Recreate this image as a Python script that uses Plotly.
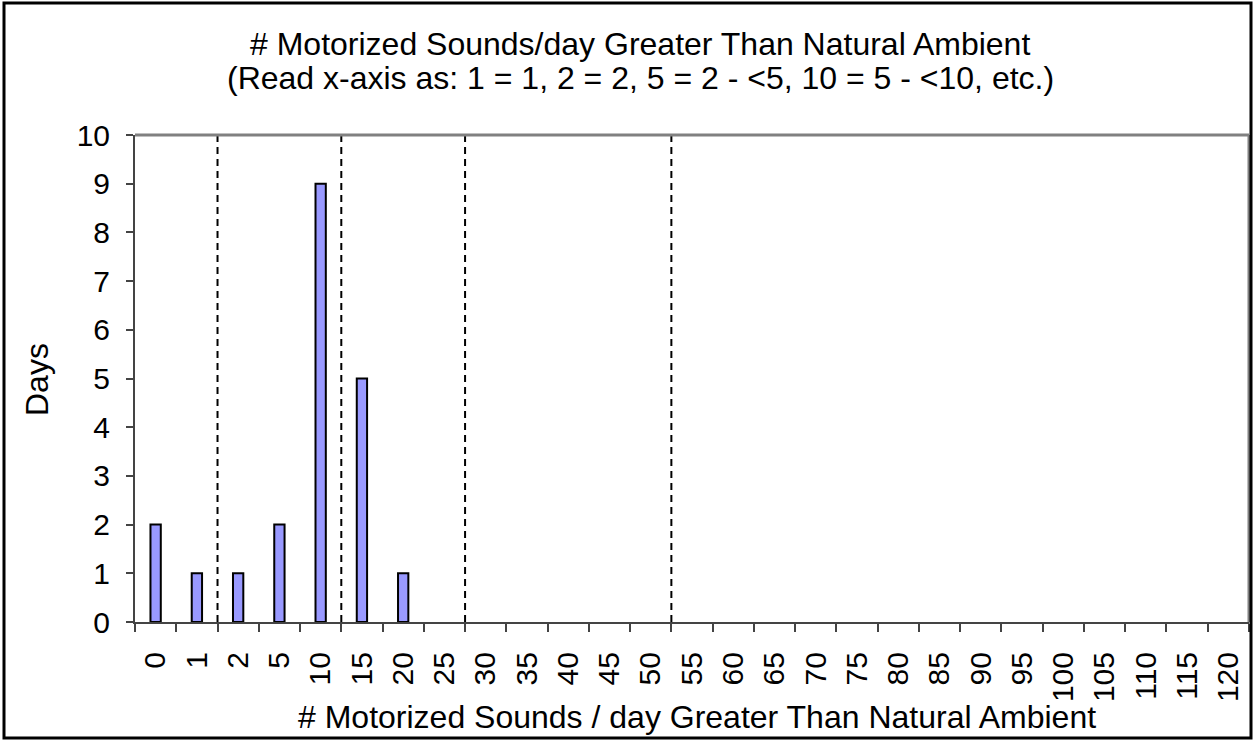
import plotly.graph_objects as go

categories = ["0", "1", "2", "5", "10", "15", "20", "25", "30", "35", "40", "45", "50",
              "55", "60", "65", "70", "75", "80", "85", "90", "95", "100", "105", "110", "115", "120"]
days = [2, 1, 1, 2, 9, 5, 1, 0, 0, 0, 0, 0, 0, 0, 0, 0, 0, 0, 0, 0, 0, 0, 0, 0, 0, 0, 0]
# dashed separators placed after these categories
separator_after = ["1", "10", "25", "50"]

title_line1 = "# Motorized Sounds/day Greater Than Natural Ambient"
title_line2 = "(Read x-axis as: 1 = 1, 2 = 2, 5 = 2 - <5, 10 = 5 - <10, etc.)"
x_title = "# Motorized Sounds / day Greater Than Natural Ambient"
y_title = "Days"

FONT = "Liberation Sans, Arial, sans-serif"
FS_TICK = 30
FS_TITLE = 32

idx = list(range(len(categories)))
bar_vals = [v if v else None for v in days]

fig = go.Figure()
fig.add_trace(go.Bar(
    x=idx, y=bar_vals, width=0.25,
    marker=dict(color="#9999FF", line=dict(color="black", width=2)),
))

L, R, T, B = 135, 1249, 135, 622
W, H = R - L, B - T

shapes = []
for c in separator_after:
    xv = categories.index(c) + 0.5
    shapes.append(dict(type="line", xref="x", yref="y", x0=xv, x1=xv, y0=0, y1=10,
                       line=dict(color="black", width=2, dash="7px,5px")))
# top and right plot-area border (gray)
shapes.append(dict(type="line", xref="paper", yref="paper", x0=0, x1=1, y0=1, y1=1,
                   line=dict(color="#808080", width=3)))
shapes.append(dict(type="line", xref="paper", yref="paper", x0=1, x1=1, y0=0, y1=1,
                   line=dict(color="#808080", width=3)))
# chart outer frame
shapes.append(dict(type="rect", xref="paper", yref="paper",
                   x0=(4 - L) / W, x1=(1251 - L) / W, y0=-(738 - B) / H, y1=(B - 3) / H,
                   line=dict(color="black", width=3)))


def px_x(x):
    return (x - L) / W


def px_y(y):
    return (B - y) / H


fig.update_layout(
    width=1256, height=740,
    margin=dict(l=L, r=1256 - R, t=T, b=740 - B, pad=0),
    paper_bgcolor="white", plot_bgcolor="white",
    showlegend=False,
    font=dict(family=FONT, size=FS_TICK, color="black"),
    shapes=shapes,
    annotations=[
        dict(text=title_line1, xref="paper", yref="paper", x=px_x(640), y=px_y(44),
             xanchor="center", yanchor="middle", showarrow=False,
             font=dict(family=FONT, size=FS_TITLE, color="black")),
        dict(text=title_line2, xref="paper", yref="paper", x=px_x(640), y=px_y(78),
             xanchor="center", yanchor="middle", showarrow=False,
             font=dict(family=FONT, size=FS_TITLE, color="black")),
        dict(text=x_title, xref="paper", yref="paper", x=px_x(697), y=px_y(717),
             xanchor="center", yanchor="middle", showarrow=False,
             font=dict(family=FONT, size=FS_TITLE, color="black")),
        dict(text=y_title, xref="paper", yref="paper", x=px_x(37), y=px_y(380),
             xanchor="center", yanchor="middle", showarrow=False, textangle=-90,
             font=dict(family=FONT, size=FS_TITLE, color="black")),
    ],
)

fig.update_xaxes(
    range=[-0.5, len(categories) - 0.5], tickmode="array", tickvals=idx, ticktext=categories,
    tickangle=-90, ticks="outside", ticklen=8, tickcolor="rgba(0,0,0,0)",
    ticklabelstandoff=8,
    minor=dict(tickmode="linear", tick0=-0.5, dtick=1, ticks="outside", ticklen=8,
               tickcolor="#444444", tickwidth=2, showgrid=False),
    showline=True, linecolor="#444444", linewidth=2, showgrid=False, zeroline=False,
    tickfont=dict(family=FONT, size=FS_TICK, color="black"),
)
fig.update_yaxes(
    range=[0, 10], dtick=1, ticks="outside", ticklen=7, tickcolor="#444444", tickwidth=2,
    ticklabelstandoff=10,
    showline=True, linecolor="#444444", linewidth=2, showgrid=False, zeroline=False,
    tickfont=dict(family=FONT, size=FS_TICK, color="black"),
)

fig.write_html("out.html", config={"displayModeBar": False},
               post_script="document.body.style.margin='0';")
